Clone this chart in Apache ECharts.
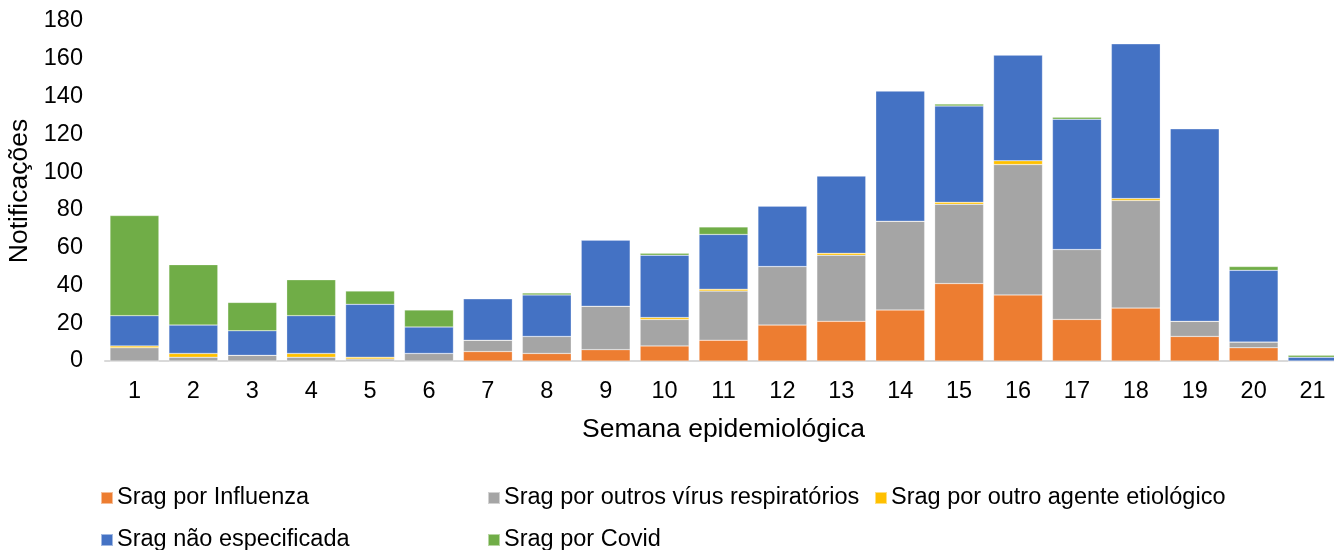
<!DOCTYPE html>
<html>
<head>
<meta charset="utf-8">
<script src="https://cdn.jsdelivr.net/npm/echarts@6/dist/echarts.min.js"></script>
<style>
html,body{margin:0;padding:0;background:#fff;}
#chart{width:1334px;height:550px;}
</style>
</head>
<body>
<div id="chart"></div>
<script>
const weeks = ['1','2','3','4','5','6','7','8','9','10','11','12','13','14','15','16','17','18','19','20','21'];
const influenza   = [0,0,0,0,0,0,5,4,6,8,11,19,21,27,41,35,22,28,13,7,0];
const outrosVirus = [7,2,3,2,1,4,6,9,23,14,26,31,35,47,42,69,37,57,8,3,0];
const outroAgente = [1,2,0,2,1,0,0,0,0,1,1,0,1,0,1,2,0,1,0,0,0];
const naoEspec    = [16,15,13,20,28,14,22,22,35,33,29,32,41,69,51,56,69,82,102,38,2];
const covid       = [53,32,15,19,7,9,0,1,0,1,4,0,0,0,1,0,1,0,0,2,1];
const yTicks = [0,20,40,60,80,100,120,140,160,180];

const names = ['Srag por Influenza','Srag por outros vírus respiratórios','Srag por outro agente etiológico','Srag não especificada','Srag por Covid'];
const colors = ['#ED7D31','#A5A5A5','#FFC000','#4472C4','#70AD47'];
const values = [influenza, outrosVirus, outroAgente, naoEspec, covid];

const font = 'Liberation Sans, Arial, sans-serif';
const fs = 23.5;
const fsName = 26.5;
const legendPos = [[95,481],[482,481],[869,481],[95,523],[482,523]];

const chart = echarts.init(document.getElementById('chart'), null, {renderer:'canvas'});
chart.setOption({
  animation:false,
  textStyle:{fontFamily:font},
  grid:{left:105, top:21, width:1237, height:340, containLabel:false, outerBoundsMode:'none'},
  legend: names.map((n,i)=>({
    data:[n], left:legendPos[i][0], top:legendPos[i][1],
    itemWidth:12, itemHeight:12, itemGap:0, icon:'rect',
    textStyle:{fontSize:fs, color:'#000', fontFamily:font, padding:[0,0,0,-1]},
    selectedMode:false
  })),
  xAxis:{
    type:'category', data:weeks,
    name:'Semana epidemiológica', nameLocation:'middle', nameGap:55,
    nameTextStyle:{fontSize:fsName, color:'#000', fontFamily:font},
    axisLine:{lineStyle:{color:'#D9D9D9', width:2}},
    axisTick:{show:false},
    axisLabel:{fontSize:fs, color:'#000', margin:19, fontFamily:font}
  },
  yAxis:{
    type:'value', min:yTicks[0], max:yTicks[yTicks.length-1], interval:20,
    name:'Notificações', nameLocation:'middle', nameGap:67,
    nameTextStyle:{fontSize:fsName, color:'#000', fontFamily:font},
    axisLine:{show:false}, axisTick:{show:false},
    splitLine:{show:false},
    axisLabel:{fontSize:fs, color:'#000', margin:22, fontFamily:font}
  },
  series: names.map((n,i)=>({
    name:n, type:'bar', stack:'total', data:values[i],
    barCategoryGap:'17%',
    itemStyle:{color:colors[i], borderColor:'rgba(255,255,255,0.5)', borderWidth:0.5}
  }))
});
</script>
</body>
</html>
